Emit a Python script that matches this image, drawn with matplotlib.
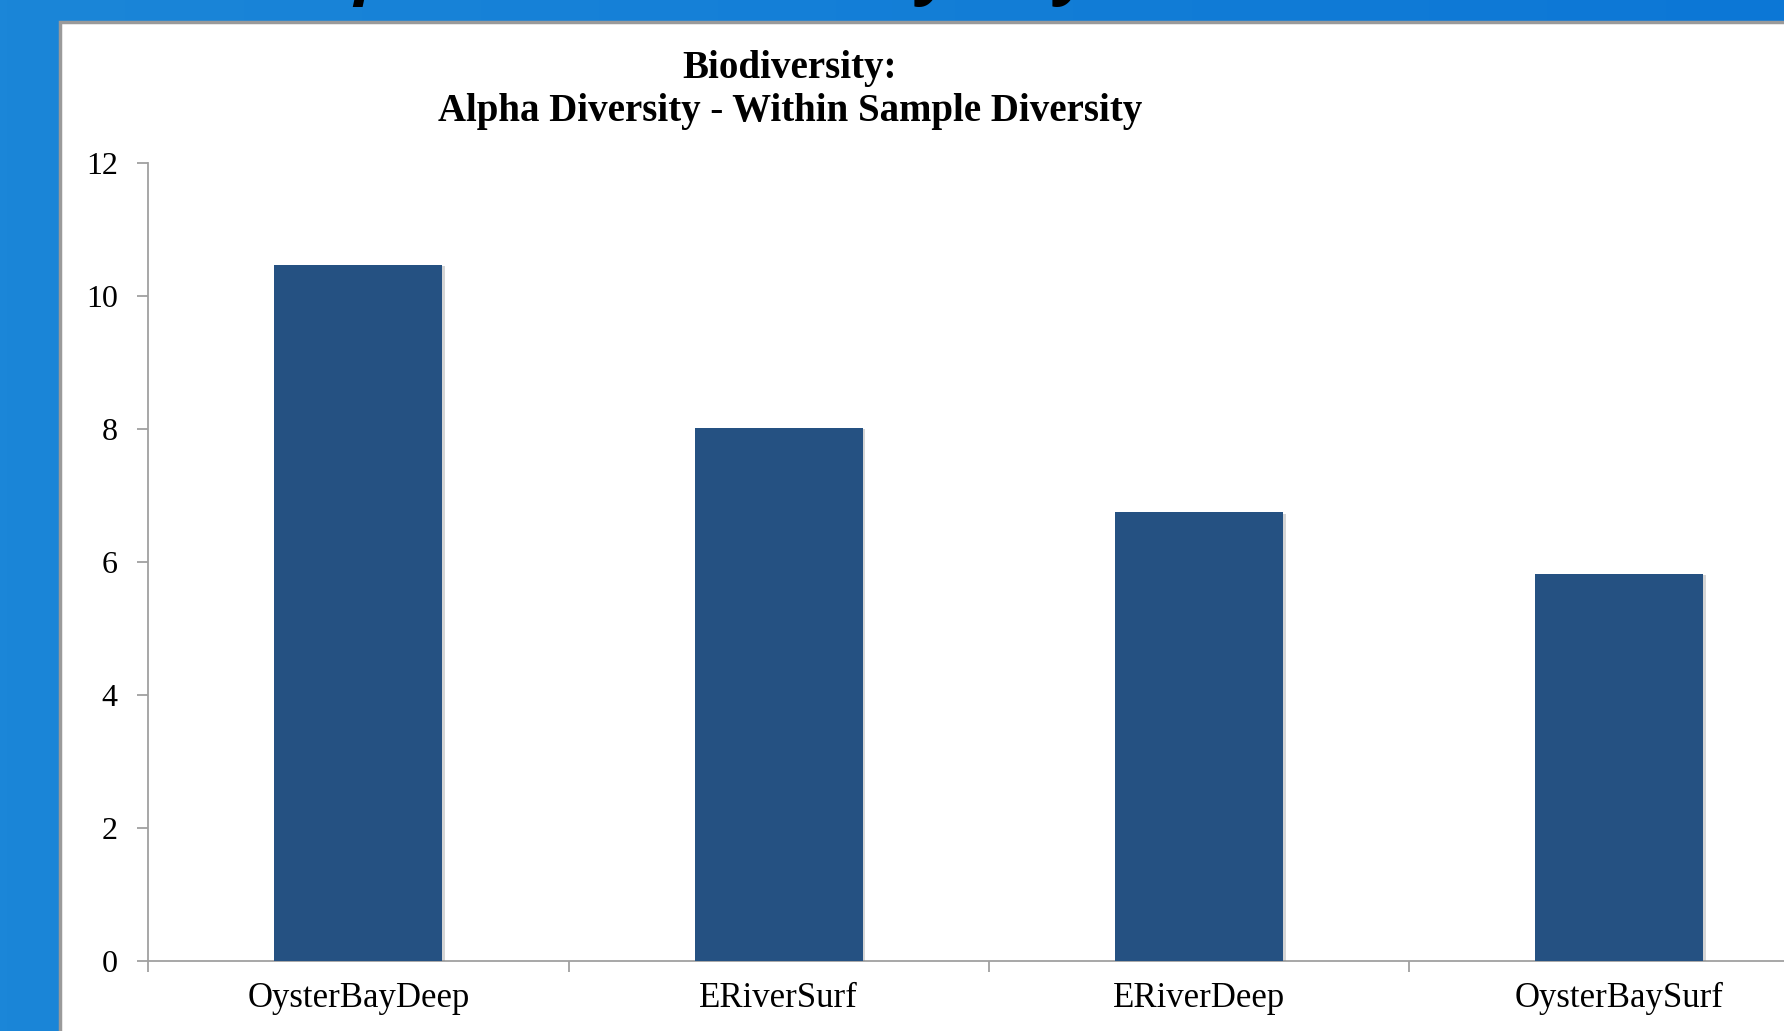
import numpy as np
import matplotlib
matplotlib.use("Agg")
from matplotlib import pyplot as plt
from matplotlib.patches import Rectangle
import matplotlib.patheffects as pe

# data
categories = ["OysterBayDeep", "ERiverSurf", "ERiverDeep", "OysterBaySurf"]
alpha_div = [10.47, 8.02, 6.75, 5.82]
y_ticks = [0, 2, 4, 6, 8, 10, 12]

W, H = 1784, 1031
fig = plt.figure(figsize=(W / 100, H / 100), dpi=100)

# slide background: blue gradient + white chart panel
bg = fig.add_axes([0, 0, 1, 1])
bg.set_xlim(0, W)
bg.set_ylim(H, 0)
bg.axis("off")
grad = np.linspace(0, 1, 256).reshape(1, -1)
cmap = matplotlib.colors.LinearSegmentedColormap.from_list("slide", ["#1b86d8", "#0c77d6"])
bg.imshow(grad, extent=[0, W, H, 0], aspect="auto", cmap=cmap)
bg.add_patch(Rectangle((60, 22), W, H, facecolor="white", edgecolor="#9a9a9a", lw=2.5))

# bottoms of the cut-off slide title glyphs
for ch, px in [("p", 374), ("y", 936), ("y", 1074)]:
    bg.text(px, 7, ch, fontsize=48, fontweight="bold", style="italic",
            family="Open Sans", ha="center", va="bottom", color="black")

# the chart itself
ax = fig.add_axes([148.3 / W, 69.6 / H, 1680.8 / W, 798.7 / H])
ax.set_facecolor("none")
x = np.arange(len(categories))
bars = ax.bar(x, alpha_div, width=0.4, color="#255182", zorder=3)
for b in bars:
    b.set_path_effects([pe.SimplePatchShadow(offset=(2, -1), shadow_rgbFace="#888888", alpha=0.35),
                        pe.Normal()])

ax.set_xlim(-0.5, len(categories) - 0.5)
ax.set_ylim(0, 12)
ax.set_yticks(y_ticks)
ax.set_yticklabels([str(t) for t in y_ticks], family="Liberation Serif", fontsize=23)
ax.set_xticks(np.arange(len(categories) + 1) - 0.5)
ax.set_xticklabels([])
ax.set_xticks(x, minor=True)
ax.set_xticklabels(categories, minor=True, family="Liberation Serif", fontsize=25)
ax.tick_params(axis="x", which="minor", length=0, pad=15)
ax.tick_params(axis="x", which="major", length=8, width=1.3, color="#a0a0a0")
ax.tick_params(axis="y", length=8, width=1.3, color="#a0a0a0", pad=14)

for s in ["top", "right"]:
    ax.spines[s].set_visible(False)
for s in ["left", "bottom"]:
    ax.spines[s].set_color("#a0a0a0")
    ax.spines[s].set_linewidth(1.3)

fig.text(790 / W, 1 - 90 / H, "Biodiversity:\nAlpha Diversity - Within Sample Diversity",
         ha="center", va="center", family="Liberation Serif", fontweight="bold",
         fontsize=28, linespacing=1.2)

plt.savefig("out.png", dpi=100)
